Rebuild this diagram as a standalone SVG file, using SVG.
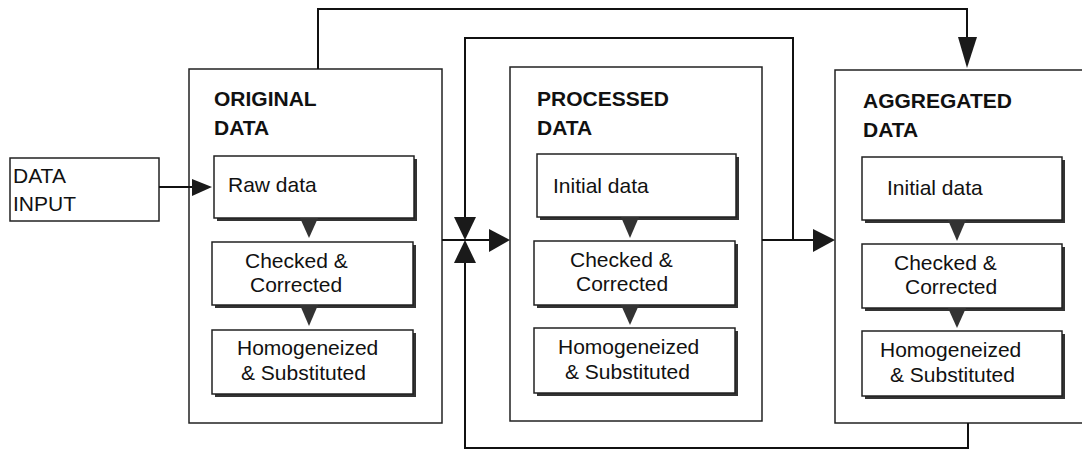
<svg xmlns="http://www.w3.org/2000/svg" width="1082" height="451" viewBox="0 0 1082 451">
<style>
.outer{fill:#fff;stroke:#222;stroke-width:1.5}
.inner{fill:#fff;stroke:#222;stroke-width:1.5}
.shadow{fill:#333}
.title{font-family:"Liberation Sans",Arial,sans-serif;font-weight:bold;font-size:21px;fill:#111}
.lbl{font-family:"Liberation Sans",Arial,sans-serif;font-size:21px;fill:#111}
.conn{fill:none;stroke:#111;stroke-width:2}
.head{fill:#1a1a1a}
.ihead{fill:#333}
</style>
<rect width="1082" height="451" fill="#fff"/>

<g id="data-input">
<rect class="outer" x="10" y="158" width="149" height="63"/>
<text class="lbl" x="13" y="183">DATA</text>
<text class="lbl" x="13" y="211">INPUT</text>
</g>

<g id="original-data">
<rect class="outer" x="189" y="69" width="253" height="354"/>
<text class="title" x="214" y="106">ORIGINAL</text>
<text class="title" x="214" y="135">DATA</text>
<g id="orig-raw">
<rect class="shadow" x="217" y="159" width="200" height="62"/>
<rect class="inner" x="214" y="156" width="200" height="62"/>
<text class="lbl" x="228" y="192">Raw data</text>
</g>
<g id="orig-checked">
<rect class="shadow" x="215" y="245" width="201" height="63"/>
<rect class="inner" x="212" y="242" width="201" height="63"/>
<text class="lbl" x="245" y="268">Checked &amp;</text>
<text class="lbl" x="250" y="292">Corrected</text>
</g>
<g id="orig-homog">
<rect class="shadow" x="215" y="333" width="201" height="64"/>
<rect class="inner" x="212" y="330" width="201" height="64"/>
<text class="lbl" x="237" y="355">Homogeneized</text>
<text class="lbl" x="241" y="380">&amp; Substituted</text>
</g>
<polygon class="ihead" points="300,218 318,218 309,238"/>
<polygon class="ihead" points="300,305 318,305 309,326"/>
</g>

<g id="processed-data">
<rect class="outer" x="510" y="67" width="252" height="354"/>
<text class="title" x="537" y="106">PROCESSED</text>
<text class="title" x="537" y="135">DATA</text>
<g id="proc-initial">
<rect class="shadow" x="540" y="157" width="199" height="63"/>
<rect class="inner" x="537" y="154" width="199" height="63"/>
<text class="lbl" x="553" y="193">Initial data</text>
</g>
<g id="proc-checked">
<rect class="shadow" x="537" y="244" width="201" height="64"/>
<rect class="inner" x="534" y="241" width="201" height="64"/>
<text class="lbl" x="570" y="267">Checked &amp;</text>
<text class="lbl" x="576" y="291">Corrected</text>
</g>
<g id="proc-homog">
<rect class="shadow" x="537" y="331" width="201" height="65"/>
<rect class="inner" x="534" y="328" width="201" height="65"/>
<text class="lbl" x="558" y="354">Homogeneized</text>
<text class="lbl" x="565" y="379">&amp; Substituted</text>
</g>
<polygon class="ihead" points="621,217 639,217 630,238"/>
<polygon class="ihead" points="621,305 639,305 630,325"/>
</g>

<g id="aggregated-data">
<rect class="outer" x="835" y="70" width="260" height="353"/>
<text class="title" x="863" y="108">AGGREGATED</text>
<text class="title" x="863" y="137">DATA</text>
<g id="agg-initial">
<rect class="shadow" x="865" y="160" width="200" height="63"/>
<rect class="inner" x="862" y="157" width="200" height="63"/>
<text class="lbl" x="887" y="195">Initial data</text>
</g>
<g id="agg-checked">
<rect class="shadow" x="865" y="247" width="200" height="64"/>
<rect class="inner" x="862" y="244" width="200" height="64"/>
<text class="lbl" x="894" y="270">Checked &amp;</text>
<text class="lbl" x="905" y="294">Corrected</text>
</g>
<g id="agg-homog">
<rect class="shadow" x="865" y="334" width="200" height="65"/>
<rect class="inner" x="862" y="331" width="200" height="65"/>
<text class="lbl" x="880" y="357">Homogeneized</text>
<text class="lbl" x="890" y="382">&amp; Substituted</text>
</g>
<polygon class="ihead" points="948,220 966,220 957,241"/>
<polygon class="ihead" points="948,308 966,308 957,328"/>
</g>

<g id="connectors">
<path class="conn" d="M159,187 H194"/>
<polygon class="head" points="192,179 192,196 212,187"/>
<path class="conn" d="M318,69 V9 H967 V40"/>
<polygon class="head" points="958,37 977,37 967,68"/>
<path class="conn" d="M793,240 V38 H465 V220"/>
<polygon class="head" points="454,217 476,217 465,240"/>
<path class="conn" d="M442,240 H492"/>
<polygon class="head" points="489,229 489,252 510,240"/>
<path class="conn" d="M762,240 H815"/>
<polygon class="head" points="813,229 813,252 835,240"/>
<path class="conn" d="M968,423 V448 H465 V258"/>
<polygon class="head" points="454,263 476,263 465,240"/>
</g>
</svg>
